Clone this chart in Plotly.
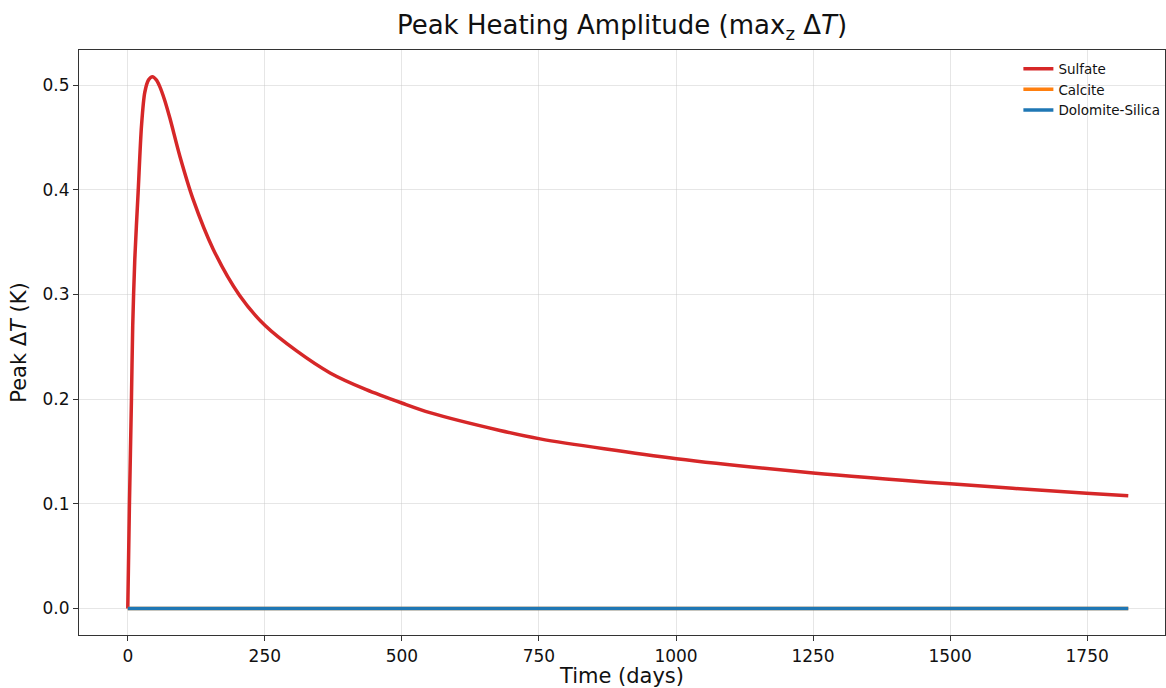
import plotly.graph_objects as go

# Data
time_sulfate = [0, 3, 6.7, 9, 12.8, 18.8, 25, 31, 38, 45, 52, 58, 67, 77, 95, 119,
                156, 204, 251, 308, 369, 435, 501, 551, 679, 752, 1001, 1250,
                1500, 1749, 1825]
peak_sulfate = [0.0, 0.10, 0.20, 0.27, 0.334, 0.397, 0.461, 0.493, 0.505, 0.508,
                0.505, 0.499, 0.486, 0.468, 0.432, 0.391, 0.343, 0.299, 0.270,
                0.246, 0.225, 0.209, 0.196, 0.187, 0.170, 0.162, 0.143, 0.1294,
                0.119, 0.110, 0.1076]
time_flat = [0, 1825]
peak_calcite = [0.0, 0.0]
peak_dolomite = [0.0, 0.0]

x_ticks = [0, 250, 500, 750, 1000, 1250, 1500, 1750]
y_ticks = [0.0, 0.1, 0.2, 0.3, 0.4, 0.5]

FONT = "DejaVu Sans"

fig = go.Figure()
fig.add_trace(go.Scatter(x=time_sulfate, y=peak_sulfate, mode="lines", name="Sulfate",
                         line=dict(color="#d62728", width=3.5, shape="spline", smoothing=0.8)))
fig.add_trace(go.Scatter(x=time_flat, y=peak_calcite, mode="lines", name="Calcite",
                         line=dict(color="#ff7f0e", width=3.5)))
fig.add_trace(go.Scatter(x=time_flat, y=peak_dolomite, mode="lines", name="Dolomite-Silica",
                         line=dict(color="#1f77b4", width=3.5)))

axis_common = dict(
    showline=True, linecolor="#333333", linewidth=1.2, mirror=True,
    ticks="outside", ticklen=5, tickwidth=1.2, tickcolor="#333333",
    showgrid=True, gridcolor="rgba(200,200,200,0.45)", gridwidth=1,
    zeroline=False, tickfont=dict(family=FONT, size=17, color="#111111"),
)

fig.update_layout(
    width=1166, height=688,
    margin=dict(l=79, r=1, t=50, b=53),
    paper_bgcolor="white", plot_bgcolor="white",
    font=dict(family=FONT, color="#111111"),
    title=dict(text="Peak Heating Amplitude (max<sub>z</sub> Δ<i>T</i>)",
               x=0.5, xref="paper", xanchor="center",
               y=1 - 25 / 688, yref="container", yanchor="middle",
               font=dict(family=FONT, size=26, color="#111111")),
    xaxis=dict(range=[-89, 1892], tickvals=x_ticks,
               title=dict(text="Time (days)", font=dict(family=FONT, size=21), standoff=7),
               **axis_common),
    yaxis=dict(range=[-0.0254, 0.5335], tickvals=y_ticks, tickformat=".1f",
               title=dict(text="Peak Δ<i>T</i> (K)", font=dict(family=FONT, size=21), standoff=10),
               **axis_common),
    legend=dict(x=0.865, y=0.994, xanchor="left", yanchor="top",
                bgcolor="rgba(0,0,0,0)", borderwidth=0,
                font=dict(family=FONT, size=13.5, color="#111111"),
                tracegroupgap=0, itemwidth=30),
    showlegend=True,
)

fig.write_html("out.html")
